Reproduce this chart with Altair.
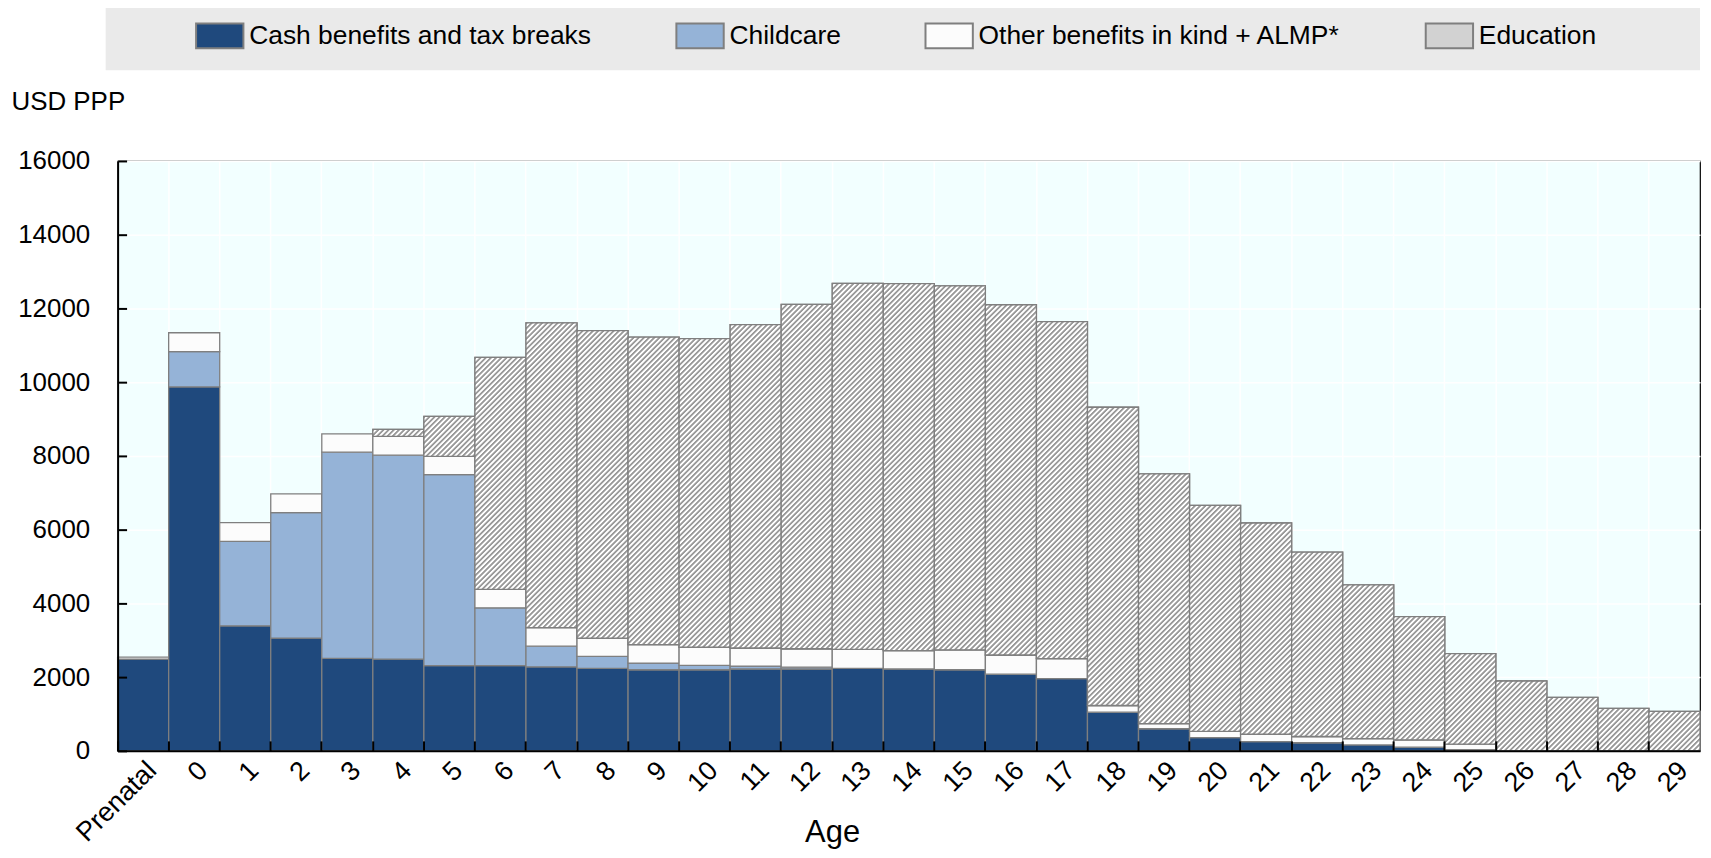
import math
import altair as alt
import pandas as pd

# ---------------- data ----------------
ages = ["Prenatal"] + [str(i) for i in range(30)]

cash = [2490, 9870, 3390, 3060, 2510, 2490, 2310, 2310, 2280, 2240,
        2200, 2200, 2220, 2220, 2240, 2220, 2200, 2080, 1960, 1050,
        600, 360, 250, 220, 160, 100, 30, 0, 0, 0, 0]
childcare = [0, 960, 2290, 3400, 5590, 5530, 5180, 1570, 560, 320,
             180, 120, 80, 50, 0, 0, 0, 0, 0, 0,
             0, 0, 0, 0, 0, 0, 0, 0, 0, 0, 0]
other = [50, 510, 510, 510, 500, 510, 500, 500, 500, 500,
         500, 490, 490, 500, 510, 500, 540, 520, 540, 180,
         140, 170, 200, 170, 170, 200, 150, 0, 0, 0, 0]
education = [0, 0, 0, 0, 0, 190, 1080, 6290, 8270, 8340,
             8340, 8370, 8770, 9340, 9930, 9950, 9870, 9500, 9140, 8090,
             6770, 6130, 5730, 5000, 4170, 3340, 2460, 1895, 1450, 1150, 1072]

series_names = ["Cash benefits and tax breaks", "Childcare",
                "Other benefits in kind + ALMP*", "Education"]
y_ticks = [0, 2000, 4000, 6000, 8000, 10000, 12000, 14000, 16000]

# ---------------- styling ----------------
FONT = "Liberation Sans"
FS = 26
COLORS = ["#1F497D", "#95B3D7", "#FCFCFC", "#D2D2D2"]
STROKE = "#7f7f7f"
PLOT_W, PLOT_H, YMAX = 1588, 592, 16000
HATCH_GRAY, HATCH_WHITE = "#9a9a9a", "#ffffff"
HATCH_STEP = 5.2

rows = []
for i, a in enumerate(ages):
    base = 0
    for name, vals in zip(series_names, [cash, childcare, other, education]):
        v = vals[i]
        if v > 0:
            rows.append({"age": a, "series": name, "start": base, "end": base + v})
        base += v
df = pd.DataFrame(rows)

x_sort = ages
x_scale = alt.Scale(domain=ages, paddingInner=0, paddingOuter=0)
y_scale = alt.Scale(domain=[0, YMAX], nice=False)


def hatch(value):
    w = PLOT_W / len(ages)
    h = value * PLOT_H / YMAX
    L = w + h
    d = w * w + h * h
    n = L / HATCH_STEP
    p = 1.0 / n
    stops = []
    j = 0
    while j * p < 1:
        b = j * p
        for frac, col in ((0, HATCH_GRAY), (0.3, HATCH_GRAY), (0.5, HATCH_WHITE), (0.8, HATCH_WHITE)):
            o = b + frac * p
            if o <= 1:
                stops.append({"offset": round(o, 5), "color": col})
        j += 1
    return {"gradient": "linear", "x1": 0, "y1": 0,
            "x2": round(w * L / d, 6), "y2": round(h * L / d, 6), "stops": stops}


# legend background box (decoration)
box = alt.Chart(alt.Data(values=[{}])).mark_rect(fill="#EAEAEA").encode(
    x=alt.value(-12), x2=alt.value(PLOT_W), y=alt.value(-156), y2=alt.value(-91)
)

# grid layer (behind bars)
grid = alt.Chart(df).mark_bar(opacity=0).encode(
    x=alt.X("age:N", sort=x_sort, scale=x_scale,
            axis=alt.Axis(orient="bottom", bandPosition=0, grid=True, gridColor="white",
                          gridWidth=1.5, ticks=False, labels=False, domain=False,
                          title=None, zindex=0)),
    y=alt.Y("start:Q", scale=y_scale,
            axis=alt.Axis(orient="left", values=y_ticks, grid=True, gridColor="white",
                          gridWidth=1.5, ticks=False, labels=False, domain=False,
                          title=None, zindex=0)),
)

main = alt.Chart(df).mark_bar(stroke=STROKE, strokeWidth=1.3).encode(
    x=alt.X("age:N", sort=x_sort, scale=x_scale,
            axis=alt.Axis(orient="bottom", grid=False, ticks=False, tickSize=0,
                          labelAngle=-45, labelAlign="right", labelBaseline="top",
                          labelPadding=6, labelFont=FONT, labelFontSize=27,
                          labelColor="black", domain=True, domainColor="black",
                          domainWidth=2, title="Age", titleFont=FONT,
                          titleFontSize=31, titleFontWeight="normal", titleColor="black",
                          titleX=717, titleY=91, titleAlign="center",
                          titleBaseline="alphabetic", zindex=1)),
    y=alt.Y("start:Q", scale=y_scale,
            axis=alt.Axis(orient="left", values=y_ticks, format="d", grid=False,
                          ticks=False, tickSize=0, labelPadding=28, labelFont=FONT,
                          labelFontSize=FS, labelColor="black", domain=True,
                          domainColor="black", domainWidth=2, title="USD PPP",
                          titleFont=FONT, titleFontSize=FS, titleFontWeight="normal",
                          titleColor="black", titleAngle=0, titleAlign="left",
                          titleBaseline="alphabetic", titleX=-107, titleY=-52, zindex=1)),
    y2="end:Q",
    color=alt.Color("series:N",
                    scale=alt.Scale(domain=series_names, range=COLORS),
                    legend=alt.Legend(orient="none", legendX=89, legendY=-139,
                                      direction="horizontal", title=None,
                                      symbolType="M-1.9,-1H1.9V1H-1.9Z", symbolSize=625,
                                      symbolStrokeColor=STROKE, symbolStrokeWidth=2,
                                      labelFont=FONT, labelFontSize=26.5, labelColor="black",
                                      labelLimit=0, labelOffset=16, columnPadding=80,
                                      padding=0)),
)

edu_layers = []
for a, v in zip(ages, education):
    if v > 0:
        edu_layers.append(
            alt.Chart(df).transform_filter(
                (alt.datum.age == a) & (alt.datum.series == "Education")
            ).mark_bar(fill=hatch(v), stroke=STROKE, strokeWidth=1.3).encode(
                x=alt.X("age:N", sort=x_sort, scale=x_scale, axis=None),
                y=alt.Y("start:Q", scale=y_scale, axis=None),
                y2="end:Q",
            )
        )

ticks = alt.Chart(df).mark_bar(opacity=0).encode(
    x=alt.X("age:N", sort=x_sort, scale=x_scale,
            axis=alt.Axis(orient="bottom", bandPosition=0, offset=-10, tickSize=10,
                          tickColor="black", tickWidth=2, ticks=True, labels=False,
                          domain=False, grid=False, title=None, zindex=2)),
    y=alt.Y("start:Q", scale=y_scale,
            axis=alt.Axis(orient="left", values=y_ticks, offset=-9, tickSize=9,
                          tickColor="black", tickWidth=2, ticks=True, labels=False,
                          domain=False, grid=False, title=None, zindex=2)),
)

chart = alt.layer(box, grid, main, *edu_layers, ticks).resolve_axis(
    x="independent", y="independent"
).properties(
    width=PLOT_W, height=PLOT_H,
    autosize=alt.AutoSizeParams(type="none"),
    padding={"left": 110, "top": 152, "right": 3, "bottom": 98},
).configure_view(fill="#F2FFFF", stroke="black", strokeWidth=1.2)

chart.save("out.html", embed_options={"renderer": "svg", "actions": False})
